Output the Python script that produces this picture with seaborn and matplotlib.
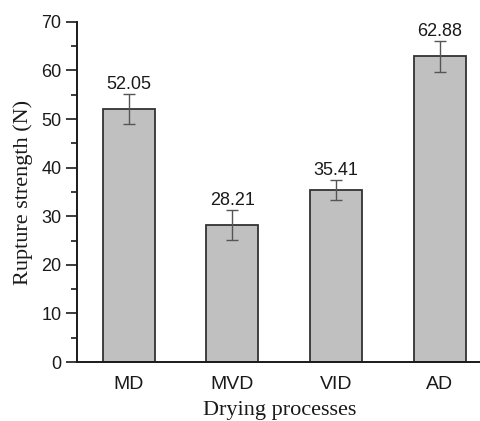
import matplotlib
matplotlib.use('Agg')
import matplotlib.pyplot as plt
import seaborn as sns
from matplotlib.ticker import MultipleLocator

processes = ['MD', 'MVD', 'VID', 'AD']
strength = [52.05, 28.21, 35.41, 62.88]
strength_err = [3.1, 3.0, 2.0, 3.1]

sns.set_theme(style='ticks')
plt.rcParams['font.family'] = ['Liberation Sans', 'DejaVu Sans']

fig = plt.figure(figsize=(4.8, 4.21), dpi=100)
ax = fig.add_axes([0.160, 0.140, 0.845, 0.808])

sns.barplot(x=processes, y=strength, color='#c0c0c0', saturation=1,
            edgecolor='#333333', linewidth=1.3, width=0.5, errorbar=None, ax=ax)
ax.errorbar(range(len(processes)), strength, yerr=strength_err, fmt='none',
            ecolor='#555555', elinewidth=1.0, capsize=4, capthick=1.0)

for i, v in enumerate(strength):
    ax.text(i, v + strength_err[i] + 0.3, f'{v:.2f}', ha='center', va='bottom',
            fontsize=13, color='#1a1a1a')

ax.set_ylim(0, 70)
ax.set_xlim(-0.5, 3.41)
ax.yaxis.set_major_locator(MultipleLocator(10))
ax.yaxis.set_minor_locator(MultipleLocator(5))
ax.tick_params(axis='y', which='major', length=8, width=1.2, labelsize=13,
               colors='#1a1a1a', pad=3)
ax.tick_params(axis='y', which='minor', length=4, width=1.2, color='#1a1a1a')
ax.tick_params(axis='x', length=0, labelsize=14, pad=10, colors='#1a1a1a')

sns.despine(ax=ax, top=True, right=True)
for s in ['left', 'bottom']:
    ax.spines[s].set_linewidth(1.4)
    ax.spines[s].set_color('#1a1a1a')

ax.set_ylabel('Rupture strength (N)', fontsize=16, family='Liberation Serif',
              color='#1a1a1a', labelpad=6)
ax.set_xlabel('Drying processes', fontsize=16, family='Liberation Serif',
              color='#1a1a1a', labelpad=6)

fig.savefig('out.png', dpi=100)
